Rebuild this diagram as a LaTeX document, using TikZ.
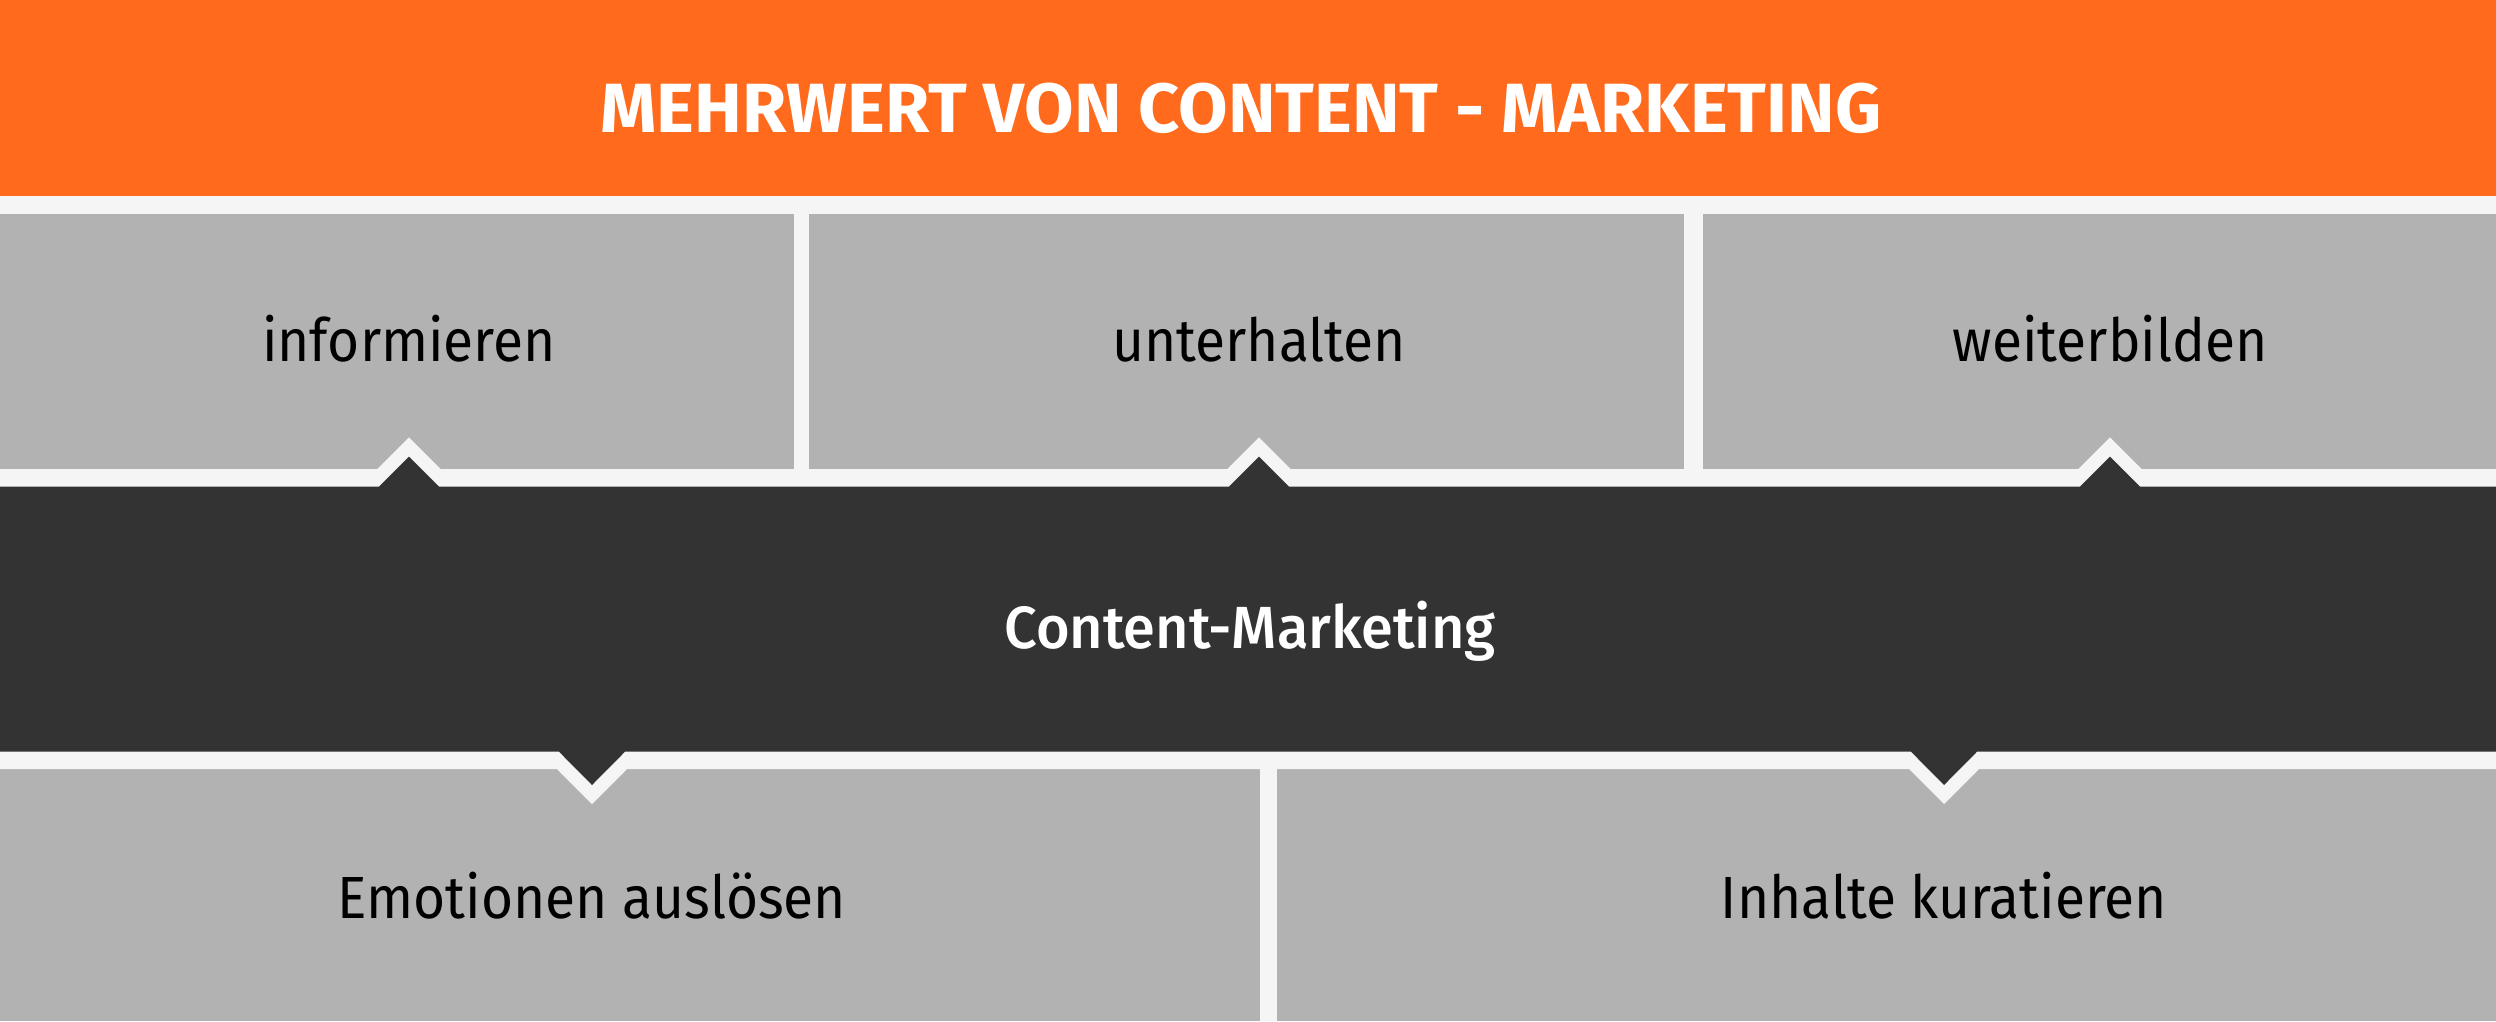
\documentclass[tikz,border=0pt]{standalone}
\usepackage{fontspec}
\setmainfont{Fira Sans}
\newfontfamily\cellfont[FakeStretch=0.925]{Fira Sans}
\newfontfamily\titlefont[FakeStretch=1.03]{Fira Sans Bold}
\IfFontExistsTF{Fira Sans Medium}
  {\newfontfamily\mainfont[FakeStretch=0.97]{Fira Sans Medium}}
  {\newfontfamily\mainfont[FakeStretch=0.96]{Fira Sans Bold}}
\definecolor{orangeM}{HTML}{FF6A1C}
\definecolor{grayM}{HTML}{B2B2B2}
\definecolor{darkM}{HTML}{333333}
\definecolor{bandM}{HTML}{F5F5F5}
\tikzset{
  cell/.style={fill=grayM},
  lbl/.style={anchor=base, inner sep=0pt, text=black, font=\cellfont\fontsize{17.85}{20}\selectfont},
  mainlbl/.style={anchor=base, inner sep=0pt, text=white, font=\mainfont\fontsize{17.85}{20}\selectfont},
  titlelbl/.style={anchor=base, inner sep=0pt, text=white, font=\titlefont\fontsize{20.9}{24}\selectfont}
}
\begin{document}
\begin{tikzpicture}[x=0.3pt,y=-0.3pt]
\useasboundingbox (0,0) rectangle (2496,1021);
\fill[bandM] (0,0) rectangle (2496,1021);
% header
\fill[orangeM] (0,0) rectangle (2496,196);
% row 1 cells
\fill[cell] (0,214) rectangle (794,469.3);
\fill[cell] (809,214) rectangle (1684,469.3);
\fill[cell] (1703,214) rectangle (2496,469.3);
% row 2 cells
\fill[cell] (0,769) rectangle (1260,1021);
\fill[cell] (1277,769) rectangle (2496,1021);
% white band around the dark block
\fill[bandM] (0,469.3) -- (377,469.3) -- (409,437.3) -- (441,469.3)
  -- (1227,469.3) -- (1259,437.3) -- (1291,469.3)
  -- (2078,469.3) -- (2110,437.3) -- (2142,469.3)
  -- (2496,469.3) -- (2496,769)
  -- (1979,769) -- (1944,804) -- (1909,769)
  -- (627,769) -- (592,804) -- (557,769)
  -- (0,769) -- cycle;
% dark block
\fill[darkM] (0,486.7) -- (379,486.7) -- (409,456.7) -- (439,486.7)
  -- (1229,486.7) -- (1259,456.7) -- (1289,486.7)
  -- (2080,486.7) -- (2110,456.7) -- (2140,486.7)
  -- (2496,486.7) -- (2496,751.7)
  -- (1977,751.7) -- (1944,785) -- (1911,751.7)
  -- (625,751.7) -- (592,785) -- (559,751.7)
  -- (0,751.7) -- cycle;
% texts
\node[titlelbl] (title) at (1241,132) {MEHRWERT VON CONTENT - MARKETING};
\node[lbl] (inf) at (409,361) {informieren};
\node[lbl] (unt) at (1259,361) {unterhalten};
\node[lbl] (wei) at (2110,361) {weiterbilden};
\node[mainlbl] (cm) at (1250,648) {Content-Marketing};
\node[lbl] (emo) at (592,918) {Emotionen auslösen};
\node[lbl] (inh) at (1944,918) {Inhalte kuratieren};
\end{tikzpicture}
\end{document}
